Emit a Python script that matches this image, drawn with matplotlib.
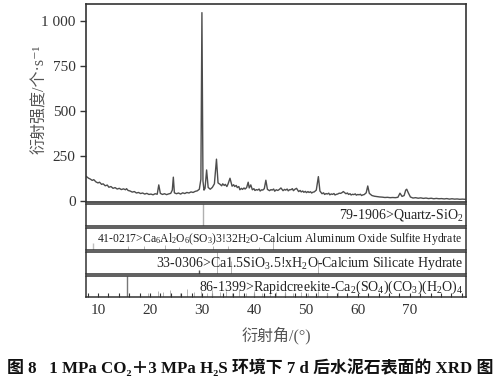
import matplotlib
matplotlib.use("Agg")
from matplotlib import pyplot as plt

plt.rcParams['font.family'] = ['Liberation Serif', 'Noto Sans CJK SC', 'DejaVu Serif']
plt.rcParams['mathtext.fontset'] = 'custom'
plt.rcParams['mathtext.rm'] = 'Liberation Serif'
plt.rcParams['mathtext.it'] = 'Liberation Serif:italic'
plt.rcParams['mathtext.default'] = 'regular'

# 衍射图谱
two_theta = [7.8, 8.2, 8.5, 8.9, 9.2, 9.6, 10.0, 10.3, 10.7, 11.0, 11.4, 11.8, 12.1, 12.5,
             12.9, 13.3, 13.7, 14.1, 14.5, 14.9, 15.3, 15.5, 15.8, 16.2, 16.6, 17.0, 17.4,
             17.8, 18.2, 18.6, 19.0, 19.4, 19.8, 20.2, 20.6, 21.0, 21.4, 21.7, 22.0, 22.4,
             22.8, 23.2, 23.6, 24.0, 24.3, 24.5, 24.7, 25.1, 25.5, 25.9, 26.3, 26.7, 27.1,
             27.5, 27.9, 28.3, 28.7, 29.1, 29.5, 29.8, 30.0, 30.2, 30.4, 30.6, 30.9, 31.2,
             31.6, 32.0, 32.4, 32.8, 33.1, 33.5, 33.8, 34.0, 34.3, 34.5, 34.8, 35.0, 35.4,
             35.8, 36.1, 36.3, 36.6, 36.8, 37.1, 37.3, 37.6, 37.8, 38.1, 38.3, 38.6, 38.9,
             39.1, 39.4, 39.7, 40.0, 40.2, 40.5, 40.7, 41.0, 41.2, 41.5, 41.7, 42.0, 42.3,
             42.6, 43.0, 43.3, 43.5, 43.8, 44.0, 44.3, 44.6, 44.9, 45.2, 45.6, 45.9, 46.1,
             46.4, 46.6, 46.9, 47.1, 47.4, 47.6, 47.9, 48.2, 48.6, 48.9, 49.1, 49.4, 49.6,
             49.9, 50.1, 50.4, 50.6, 50.9, 51.1, 51.4, 51.6, 52.0, 52.4, 52.7, 53.1, 53.4,
             53.6, 53.9, 54.1, 54.4, 54.6, 54.9, 55.1, 55.4, 55.6, 55.9, 56.1, 56.4, 56.7,
             57.0, 57.2, 57.5, 57.7, 58.0, 58.2, 58.5, 58.7, 59.0, 59.2, 59.5, 59.7, 60.0,
             60.2, 60.5, 60.7, 61.0, 61.2, 61.6, 61.9, 62.2, 62.7, 63.2, 63.7, 64.2, 64.7,
             65.2, 65.7, 66.2, 66.7, 67.2, 67.7, 68.1, 68.5, 68.9, 69.2, 69.4, 69.7, 70.1,
             70.6, 71.1, 71.6, 72.1, 72.6, 73.1, 73.6, 74.1, 74.6, 75.1, 75.6, 76.1, 76.6,
             77.1, 77.6, 78.1, 78.6, 79.1, 79.6, 80.1, 80.6]
intensity = [135, 126, 122, 114, 118, 106, 100, 104, 92, 95, 84, 88, 76, 80,
             70, 74, 66, 70, 63, 67, 62, 68, 58, 55, 49, 52, 44,
             47, 41, 44, 38, 42, 36, 38, 34, 40, 37, 89, 42, 36,
             40, 35, 39, 42, 60, 132, 45, 40, 44, 38, 45, 41, 47,
             44, 50, 47, 53, 56, 65, 120, 1046, 110, 60, 70, 172, 75,
             65, 75, 95, 232, 100, 92, 84, 95, 86, 92, 80, 92, 126,
             82, 90, 80, 86, 74, 80, 62, 70, 64, 72, 66, 74, 104,
             72, 89, 62, 68, 58, 63, 60, 66, 55, 62, 60, 68, 115,
             64, 57, 63, 60, 66, 54, 62, 58, 64, 72, 57, 64, 60,
             66, 56, 63, 62, 68, 57, 65, 70, 52, 58, 50, 55, 48,
             53, 46, 52, 47, 51, 44, 49, 50, 60, 135, 55, 40, 45,
             36, 41, 38, 43, 34, 39, 36, 41, 33, 37, 38, 43, 42,
             47, 52, 45, 40, 44, 36, 40, 33, 37, 35, 39, 32, 36,
             34, 37, 30, 34, 35, 45, 83, 42, 30, 26, 24, 22, 21,
             19, 20, 18, 19, 18, 20, 43, 25, 30, 60, 65, 45, 22,
             16, 18, 15, 17, 14, 16, 13, 15, 12, 14, 12, 13, 11,
             13, 10, 12, 10, 11, 9, 10, 9]

# 标准卡片
quartz_pos = [30.2]
quartz_h = [1.0]
ettringite_pos = [9.1, 15.8, 18.9, 22.9, 25.6, 32.2, 35.0, 40.9, 43.7]
ettringite_h = [0.3, 0.2, 0.2, 0.25, 0.15, 0.2, 0.2, 0.15, 0.5]
csh_pos = [29.4, 32.9, 35.5, 52.3]
csh_h = [0.2, 1.0, 0.6, 0.65]
rapid_pos = [15.6, 19.6, 21.5, 22.5, 23.8, 25.8, 27.1, 28.5, 29.8, 31.0, 32.0, 33.4,
             34.6, 35.8, 37.2, 38.5, 40.0, 41.6, 43.0, 44.3, 46.0, 47.5, 49.0, 50.5,
             52.3, 54.0, 56.2]
rapid_h = [1.0, 0.2, 0.3, 0.25, 0.35, 0.2, 0.4, 0.25, 0.3, 0.2, 0.35, 0.25,
           0.3, 0.2, 0.4, 0.2, 0.3, 0.2, 0.35, 0.25, 0.3, 0.2, 0.25, 0.2,
           0.3, 0.2, 0.25]

cards = [
    (quartz_pos, quartz_h, r'79-1906>Quartz-SiO$_2$', 'right', 10),
    (ettringite_pos, ettringite_h,
     r'41-0217>Ca$_6$Al$_2$O$_6$(SO$_3$)3!32H$_2$O-Calcium Aluminum Oxide Sulfite Hydrate', 'center', 8.4),
    (csh_pos, csh_h, r'33-0306>Ca1.5SiO$_3$.5!xH$_2$O-Calcium Silicate Hydrate', 'right', 10),
    (rapid_pos, rapid_h, r'86-1399>Rapidcreekite-Ca$_2$(SO$_4$)(CO$_3$)(H$_2$O)$_4$', 'right', 10),
]

W, H = 500, 377
fig = plt.figure(figsize=(5.0, 3.77), dpi=100)


def box(top, bottom, left=86, right=466):
    return [left / W, 1 - bottom / H, (right - left) / W, (bottom - top) / H]


xmin, xmax = 7.7, 80.8
edge = '#333333'

ax = fig.add_axes(box(4, 202))
ax.plot(two_theta, intensity, color='#4d4d4d', lw=1.0)
ax.set_xlim(xmin, xmax)
ax.set_ylim(-6, 1094)
ax.set_yticks([0, 250, 500, 750, 1000])
ax.set_yticklabels(['0', '250', '500', '750', '1 000'])
ax.tick_params(axis='y', direction='out', length=4, width=1, colors=edge, labelsize=11)
ax.tick_params(axis='x', bottom=False, labelbottom=False)
for s in ax.spines.values():
    s.set_color(edge)
    s.set_linewidth(1.2)
ax.set_ylabel('衍射强度/个·s⁻¹', fontsize=11.5, color='#555555')
ax.yaxis.set_label_coords(-0.10, 0.52)

tops = [204, 228, 252, 276]
bottoms = [226, 250, 274, 297]
for i, (pos, h, label, ha, fs) in enumerate(cards):
    p = fig.add_axes(box(tops[i], bottoms[i]))
    p.set_xlim(xmin, xmax)
    p.set_ylim(0, 1)
    col = ['#b0b0b0', '#c0c0c0', '#555555', '#777777'][i]
    p.vlines(pos[:1], 0, h[:1], color=col, lw=1.0)
    p.vlines(pos[1:], 0, h[1:], color='#aaaaaa', lw=0.6)
    p.set_yticks([])
    for s in p.spines.values():
        s.set_color(edge)
        s.set_linewidth(1.1)
    if ha == 'right':
        p.text(0.992, 0.48, label, transform=p.transAxes, ha='right', va='center',
               fontsize=fs, color='#222222')
    else:
        p.text(0.51, 0.48, label, transform=p.transAxes, ha='center', va='center',
               fontsize=fs, color='#222222')
    if i < 3:
        p.tick_params(axis='x', bottom=False, labelbottom=False)
    else:
        p.set_xticks(range(10, 80, 10))
        p.set_xticks(range(8, 81, 2), minor=True)
        p.tick_params(axis='x', which='both', direction='in', length=3, width=0.8,
                      colors=edge, labelsize=11, pad=5)
        p.set_xlabel('衍射角/(°)', fontsize=11.5, color='#555555', labelpad=7)

fig.text(0.5, 1 - 368 / H, '图 8   1 MPa CO₂＋3 MPa H₂S 环境下 7 d 后水泥石表面的 XRD 图',
         ha='center', va='center', fontsize=12.2, fontweight='bold', color='#111111')

fig.savefig('out.png', dpi=100)
